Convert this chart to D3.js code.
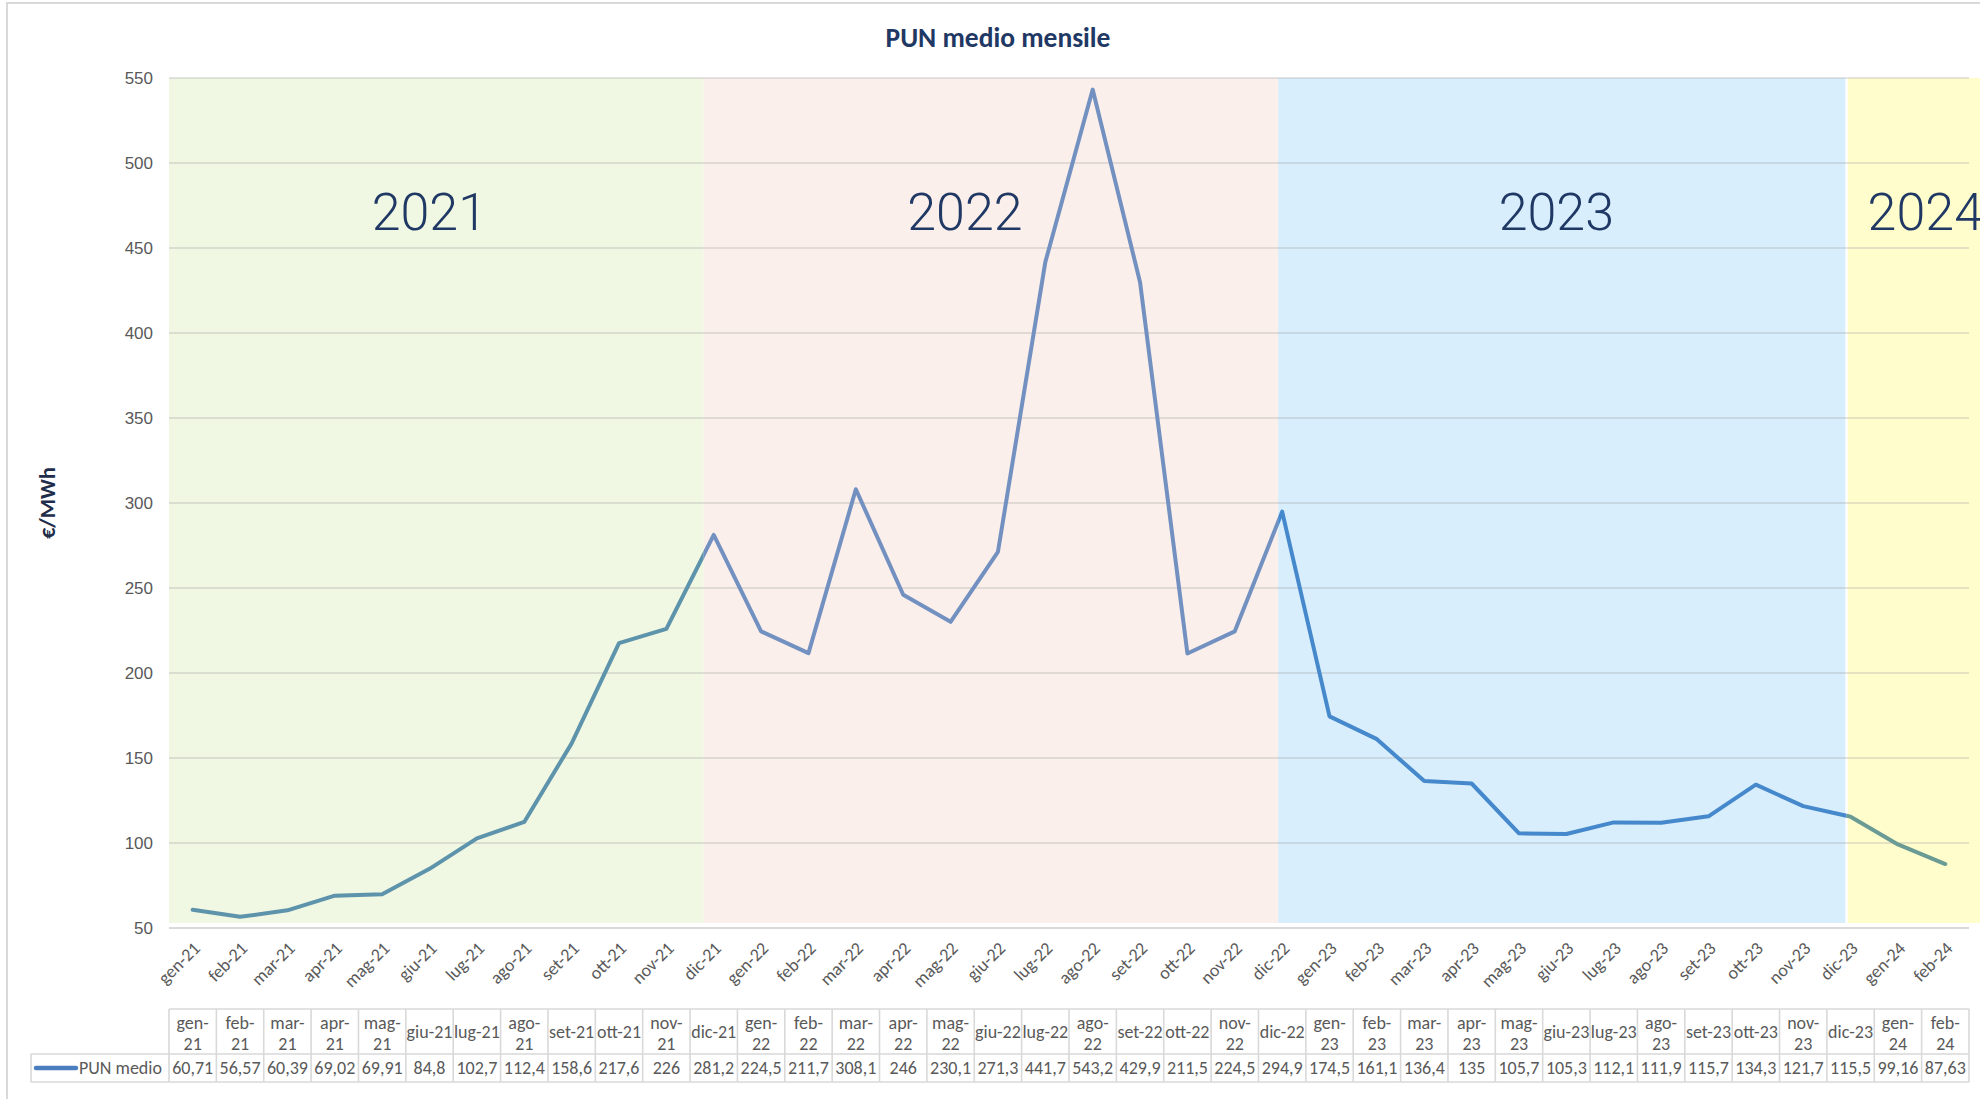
<!DOCTYPE html>
<html>
<head>
<meta charset="utf-8">
<title>PUN medio mensile</title>
<script src="https://cdn.jsdelivr.net/npm/d3@7"></script>
<style>
    html, body { margin: 0; padding: 0; background: #ffffff; }
    svg { display: block; font-family: Carlito, Lato, "Liberation Sans", sans-serif; }
</style>
</head>
<body>
<div id="chart"></div>
<script>
/* --------------------------------------------------------- */
/* Data.                                                     */
/* --------------------------------------------------------- */
var months = ["gen-21", "feb-21", "mar-21", "apr-21", "mag-21", "giu-21",
              "lug-21", "ago-21", "set-21", "ott-21", "nov-21", "dic-21",
              "gen-22", "feb-22", "mar-22", "apr-22", "mag-22", "giu-22",
              "lug-22", "ago-22", "set-22", "ott-22", "nov-22", "dic-22",
              "gen-23", "feb-23", "mar-23", "apr-23", "mag-23", "giu-23",
              "lug-23", "ago-23", "set-23", "ott-23", "nov-23", "dic-23",
              "gen-24", "feb-24"];

var punMedio = [60.71, 56.57, 60.39, 69.02, 69.91, 84.8,
                102.7, 112.4, 158.6, 217.6, 226, 281.2,
                224.5, 211.7, 308.1, 246, 230.1, 271.3,
                441.7, 543.2, 429.9, 211.5, 224.5, 294.9,
                174.5, 161.1, 136.4, 135, 105.7, 105.3,
                112.1, 111.9, 115.7, 134.3, 121.7, 115.5,
                99.16, 87.63];

// Year periods: a band starts at the month of 'yearFrom' and ends at 'yearTo'.
var years    = ["2021", "2022", "2023", "2024"];
var yearFrom = [null, "dic-21", "dic-22", "dic-23"];
var yearTo   = ["dic-21", "dic-22", "dic-23", null];

var yTicks      = [50, 100, 150, 200, 250, 300, 350, 400, 450, 500, 550];
var seriesName  = "PUN medio";
var chartTitle  = "PUN medio mensile";
var yAxisTitle  = "€/MWh";

/* --------------------------------------------------------- */
/* Styles.                                                   */
/* --------------------------------------------------------- */
var bandFill   = ["#f0f7e3", "#fbefeb", "#d8eefc", "#fffdcc"];
var bandLine   = ["#5d93ab", "#7391c0", "#4589cc", "#6a9b95"];
var edgeShift  = { "dic-21": -10, "dic-22": -4, "dic-23": -4 };  // hand-drawn band edges
var yearDx     = [-7, -26, -6, 12];                                // text box nudges
var legendLine = "#4a7ebf";
var navy       = "#1f3864";
var gray       = "#595959";
var rule       = "#d9d9d9";

var W = 1980, H = 1099;
var plot = { left: 169, right: 1969, top: 78, bottom: 928 };
var table = { left: 31, headTop: 1009, rowTop: 1054, bottom: 1082 };

var svg = d3.select("#chart").append("svg")
            .attr("width", W)
            .attr("height", H);

/* --------------------------------------------------------- */
/* Scales.                                                   */
/* --------------------------------------------------------- */
var x = d3.scaleBand()
          .domain(months)
          .range([plot.left, plot.right])
          .padding(0);
var colW = x.bandwidth();
function xc(m) { return x(m) + colW / 2; }

var y = d3.scaleLinear()
          .domain([50, 550])
          .range([plot.bottom, plot.top]);

// Chart frame.
svg.append("rect")
   .attr("x", 7).attr("y", 3)
   .attr("width", W + 20).attr("height", H + 20)
   .attr("fill", "none")
   .attr("stroke", rule)
   .attr("stroke-width", 2);

svg.append("text")
   .attr("x", 998).attr("y", 47)
   .attr("text-anchor", "middle")
   .attr("font-size", 27.5)
   .attr("font-weight", "bold")
   .attr("fill", navy)
   .text(chartTitle);

/* --------------------------------------------------------- */
/* Year bands.                                               */
/* --------------------------------------------------------- */
function bandX0(i) { return yearFrom[i] ? xc(yearFrom[i]) + edgeShift[yearFrom[i]] : plot.left; }
function bandX1(i) { return yearTo[i] ? xc(yearTo[i]) + edgeShift[yearTo[i]] : W; }

var bands = svg.append("g");
years.forEach(function(yr, i) {
    bands.append("rect")
         .attr("x", bandX0(i))
         .attr("y", y(550))
         .attr("width", bandX1(i) - bandX0(i))
         .attr("height", y(50) - y(550) - 5)
         .attr("fill", bandFill[i]);
});
// White seam between 2023 and 2024.
bands.append("line")
     .attr("x1", bandX0(3)).attr("x2", bandX0(3))
     .attr("y1", y(550)).attr("y2", y(50) - 5)
     .attr("stroke", "#ffffff")
     .attr("stroke-width", 2.5);

// Gridlines.
svg.append("g")
   .selectAll("line")
   .data(yTicks.slice(1)).enter().append("line")
   .attr("x1", plot.left).attr("x2", plot.right)
   .attr("y1", function(d) { return y(d); })
   .attr("y2", function(d) { return y(d); })
   .attr("stroke", "#a6a6a6")
   .attr("stroke-opacity", 0.4)
   .attr("stroke-width", 1.6);

svg.append("line")
   .attr("x1", plot.left).attr("x2", plot.right)
   .attr("y1", y(50)).attr("y2", y(50))
   .attr("stroke", rule)
   .attr("stroke-width", 2);

/* --------------------------------------------------------- */
/* Series line, tinted per year band.                        */
/* --------------------------------------------------------- */
var lineGen = d3.line()
                .x(function(d, i) { return xc(months[i]); })
                .y(function(d) { return y(d); });

var defs = svg.append("defs");
years.forEach(function(yr, i) {
    defs.append("clipPath").attr("id", "clip" + i)
        .append("rect")
        .attr("x", bandX0(i)).attr("y", 0)
        .attr("width", bandX1(i) - bandX0(i))
        .attr("height", plot.bottom + 10);

    svg.append("path")
       .datum(punMedio)
       .attr("clip-path", "url(#clip" + i + ")")
       .attr("d", lineGen)
       .attr("fill", "none")
       .attr("stroke", bandLine[i])
       .attr("stroke-width", 4)
       .attr("stroke-linejoin", "round")
       .attr("stroke-linecap", "round");
});

// Year labels.
svg.append("g")
   .selectAll("text")
   .data(years).enter().append("text")
   .attr("x", function(d, i) { return (bandX0(i) + bandX1(i)) / 2 + yearDx[i]; })
   .attr("y", 230)
   .attr("text-anchor", "middle")
   .attr("font-family", "Roboto, sans-serif")
   .attr("font-weight", 300)
   .attr("font-size", 52)
   .attr("fill", navy)
   .text(function(d) { return d; });

/* --------------------------------------------------------- */
/* Axes.                                                     */
/* --------------------------------------------------------- */
var yAxis = svg.append("g")
               .attr("transform", "translate(" + (plot.left - 16) + ",0)")
               .call(d3.axisLeft(y).tickValues(yTicks).tickSize(0).tickPadding(0));
yAxis.select(".domain").remove();
yAxis.selectAll("text")
     .attr("font-size", 17)
     .attr("font-family", null)
     .attr("fill", gray);

var xLabels = svg.append("g");
months.forEach(function(m) {
    xLabels.append("text")
           .attr("transform", "translate(" + (xc(m) + 4) + "," + 945 + ") rotate(-45)")
           .attr("text-anchor", "end")
           .attr("dy", "0.35em")
           .attr("font-size", 18)
           .attr("fill", gray)
           .text(m);
});

svg.append("text")
   .attr("transform", "translate(47,503) rotate(-90)")
   .attr("text-anchor", "middle")
   .attr("dy", "0.35em")
   .attr("font-size", 22)
   .attr("font-weight", "bold")
   .attr("fill", "#1f2d4a")
   .text(yAxisTitle);

/* --------------------------------------------------------- */
/* Data table.                                               */
/* --------------------------------------------------------- */
var tbl = svg.append("g");

function hline(x1, x2, yy) {
    tbl.append("line").attr("x1", x1).attr("x2", x2)
       .attr("y1", yy).attr("y2", yy)
       .attr("stroke", rule).attr("stroke-width", 1.6);
}
function vline(xx, y1, y2) {
    tbl.append("line").attr("x1", xx).attr("x2", xx)
       .attr("y1", y1).attr("y2", y2)
       .attr("stroke", rule).attr("stroke-width", 1.6);
}

hline(plot.left, plot.right, table.headTop);
hline(table.left, plot.right, table.rowTop);
hline(table.left, plot.right, table.bottom);
vline(table.left, table.rowTop, table.bottom);
months.forEach(function(m) { vline(x(m), table.headTop, table.bottom); });
vline(plot.right, table.headTop, table.bottom);

// Header: month names, wrapped at the hyphen when they do not fit.
var headMid = (table.headTop + table.rowTop) / 2;
months.forEach(function(m) {
    var t = tbl.append("text")
               .attr("x", xc(m))
               .attr("y", headMid + 6)
               .attr("text-anchor", "middle")
               .attr("font-size", 18)
               .attr("fill", gray)
               .text(m);
    if (t.node().getComputedTextLength() > colW - 1.2) {
        var parts = m.split("-");
        t.text(null).attr("y", null);
        t.append("tspan").attr("x", xc(m)).attr("y", headMid - 3).text(parts[0] + "-");
        t.append("tspan").attr("x", xc(m)).attr("y", headMid + 18).text(parts[1]);
    }
});

// Values row.
function fmt(v) { return String(v).replace(".", ","); }
var rowMid = (table.rowTop + table.bottom) / 2;
tbl.selectAll("text.val")
   .data(punMedio).enter().append("text")
   .attr("class", "val")
   .attr("x", function(d, i) { return xc(months[i]); })
   .attr("y", rowMid + 6)
   .attr("text-anchor", "middle")
   .attr("font-size", 18)
   .attr("fill", gray)
   .text(fmt);

// Legend key in the first column.
tbl.append("line")
   .attr("x1", 36).attr("x2", 76)
   .attr("y1", rowMid).attr("y2", rowMid)
   .attr("stroke", legendLine)
   .attr("stroke-width", 4.5)
   .attr("stroke-linecap", "round");
tbl.append("text")
   .attr("x", 79).attr("y", rowMid + 6)
   .attr("font-size", 18)
   .attr("fill", gray)
   .text(seriesName);
</script>
</body>
</html>
